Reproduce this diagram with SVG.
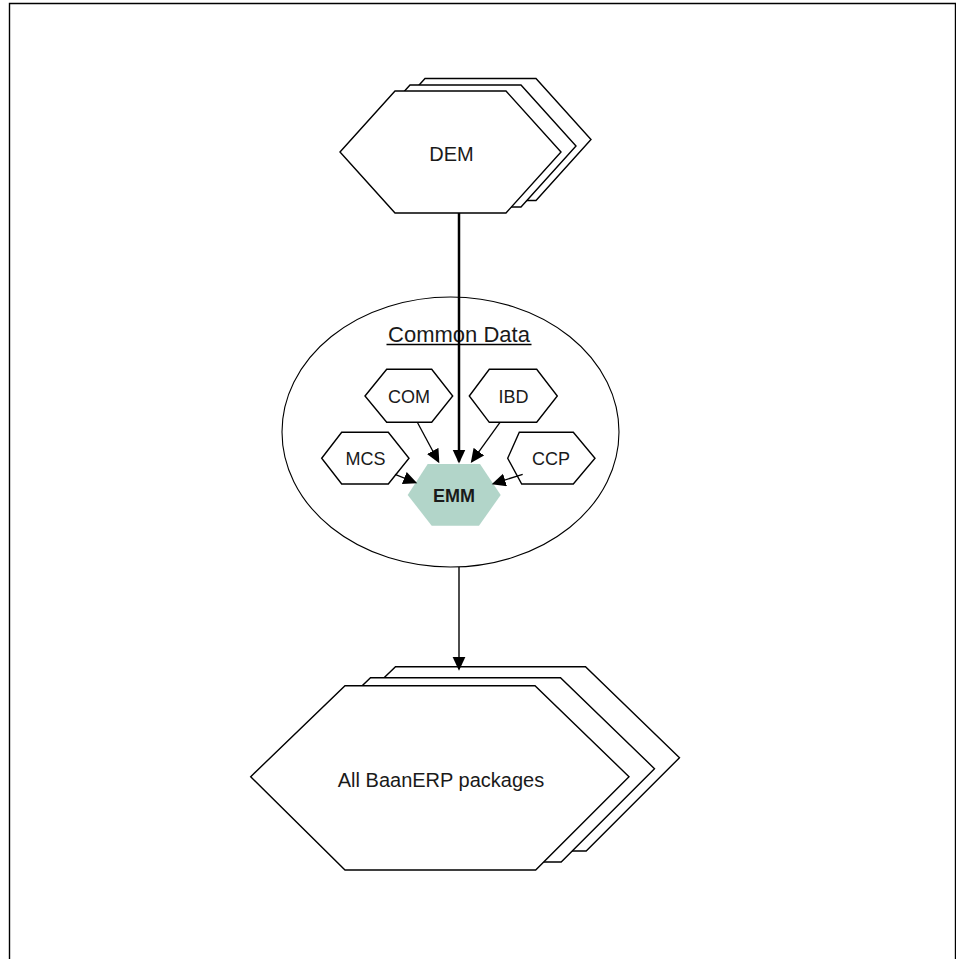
<svg xmlns="http://www.w3.org/2000/svg" xmlns:xlink="http://www.w3.org/1999/xlink" width="956" height="959" viewBox="0 0 956 959">
<style>
  .hex { fill: #ffffff; stroke: #000000; stroke-width: 1.4; stroke-linejoin: miter; }
  .lbl { font-family: "Liberation Sans", Arial, sans-serif; fill: #1a1a1a; text-anchor: middle; }
  .conn { stroke: #000000; fill: none; }
</style>
<defs>
  <marker id="ah" markerUnits="userSpaceOnUse" markerWidth="16" markerHeight="14" refX="12" refY="6.5" orient="auto">
    <path d="M0,0 L14,6.5 L0,13 z" fill="#000000"/>
  </marker>
  <polygon id="demShape" points="340,152 395,91 506,91 561,152 506,213 395,213"/>
  <polygon id="allShape" points="250.7,776.7 345,685.7 535,685.7 629,776.7 535.7,870 345,870"/>
</defs>
<rect width="956" height="959" fill="#ffffff"/>
<path d="M9.5,962 V3.5 H955.5 V962" fill="none" stroke="#000000" stroke-width="1.4"/>

<g id="common-data">
  <ellipse cx="450.5" cy="432" rx="168.5" ry="135" fill="#ffffff" stroke="#000000" stroke-width="1.1"/>
  <text class="lbl" x="459" y="341.5" font-size="22">Common Data</text>
  <line x1="386.5" y1="344.5" x2="531.5" y2="344.5" stroke="#000000" stroke-width="1.3"/>
</g>

<g id="dem">
  <use xlink:href="#demShape" class="hex" transform="translate(30,-12.5)"/>
  <use xlink:href="#demShape" class="hex" transform="translate(15,-6)"/>
  <use xlink:href="#demShape" class="hex"/>
  <text class="lbl" x="451.5" y="161" font-size="20">DEM</text>
</g>

<g id="com">
  <polygon class="hex" points="365,396 386.7,369.3 431.7,369.3 452.7,396 431.7,422.3 386.7,422.3"/>
  <text class="lbl" x="409" y="402.5" font-size="18">COM</text>
</g>
<g id="ibd">
  <polygon class="hex" points="469.3,396 489.3,369.3 536.7,369.3 557.3,396 536.7,422.3 489.3,422.3"/>
  <text class="lbl" x="513.5" y="402.5" font-size="18">IBD</text>
</g>
<g id="mcs">
  <polygon class="hex" points="321.7,458.3 341.7,432.3 388.3,432.3 409,458.3 388.3,484 341.7,484"/>
  <text class="lbl" x="365.5" y="465" font-size="18">MCS</text>
</g>
<g id="ccp">
  <polygon class="hex" points="507.7,458.3 519.3,432.3 573.3,432.3 595,458.3 573.3,484 521.7,484"/>
  <text class="lbl" x="551" y="465" font-size="18">CCP</text>
</g>
<g id="emm">
  <polygon points="407.7,495 427.7,464 480,464 500.7,495 479,525.7 431.7,525.7" fill="#b2d5c9"/>
  <text class="lbl" x="454" y="502" font-size="18" font-weight="bold" fill="#000000">EMM</text>
</g>

<g id="all-baanerp">
  <use xlink:href="#allShape" class="hex" transform="translate(50.5,-19)"/>
  <use xlink:href="#allShape" class="hex" transform="translate(25.5,-8)"/>
  <use xlink:href="#allShape" class="hex"/>
  <text class="lbl" x="441" y="787" font-size="20">All BaanERP packages</text>
</g>

<g id="connectors">
  <line class="conn" x1="459" y1="213" x2="459" y2="461.5" stroke-width="2.5" marker-end="url(#ah)"/>
  <line class="conn" x1="417.3" y1="422.3" x2="438.4" y2="461.5" stroke-width="1.3" marker-end="url(#ah)"/>
  <line class="conn" x1="500" y1="422.3" x2="471.9" y2="461.4" stroke-width="1.3" marker-end="url(#ah)"/>
  <line class="conn" x1="395" y1="474.3" x2="415.4" y2="482.5" stroke-width="1.3" marker-end="url(#ah)"/>
  <line class="conn" x1="522.7" y1="474.3" x2="493.6" y2="483.7" stroke-width="1.3" marker-end="url(#ah)"/>
  <line class="conn" x1="459" y1="567" x2="459" y2="668.7" stroke-width="1.4" marker-end="url(#ah)"/>
</g>
</svg>
